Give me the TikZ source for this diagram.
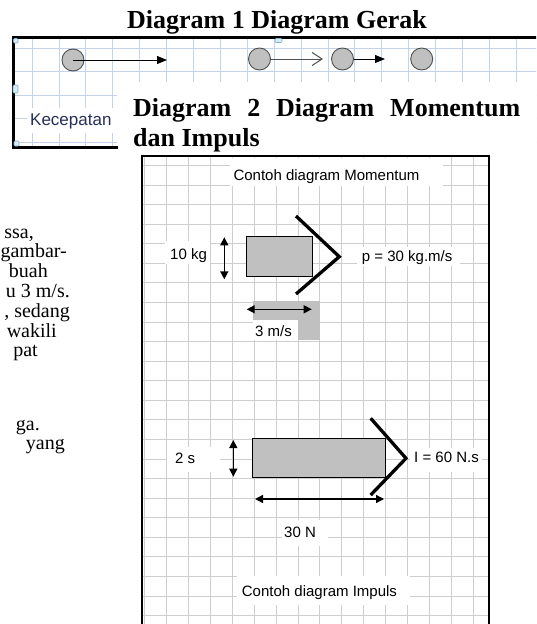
\documentclass[tikz,border=0pt]{standalone}
\usepackage{fontspec}
\setmainfont{Liberation Serif}
\newfontfamily\arialf{Liberation Sans}
\usetikzlibrary{arrows.meta}
\definecolor{gridblue}{RGB}{196,210,234}
\definecolor{gridgray}{RGB}{206,206,206}
\definecolor{ballfill}{RGB}{192,192,192}
\definecolor{ballline}{RGB}{80,80,80}
\definecolor{boxfill}{RGB}{192,192,192}
\definecolor{kecol}{RGB}{38,48,90}
\definecolor{handlefill}{RGB}{214,236,246}
\definecolor{handleline}{RGB}{130,176,206}
\begin{document}
\begin{tikzpicture}[x=1pt,y=-1pt,
  gridone/.style={draw=gridblue,line width=1pt},
  gridtwo/.style={draw=gridgray,line width=1pt},
  ttl/.style={font=\bfseries\fontsize{26}{30}\selectfont,inner sep=0pt},
  body/.style={font=\fontsize{20}{22}\selectfont,inner sep=0pt,anchor=base east},
  lbl/.style={font=\arialf\fontsize{15}{17}\selectfont,inner sep=0pt,anchor=base west},
  ball/.style={circle,draw=ballline,fill=ballfill,line width=0.9pt,minimum size=22pt,inner sep=0pt},
  massbox/.style={draw=black,fill=boxfill,line width=0.9pt,inner sep=0pt},
  chev/.style={line width=3.3pt,line join=miter,line cap=butt},
  dbl/.style={line width=1.4pt,{Triangle[length=8pt,width=8pt]}-{Triangle[length=8pt,width=8pt]}},
  handle/.style={fill=handlefill,draw=handleline,line width=0.6pt,rounded corners=1pt}]
\useasboundingbox (0,0) rectangle (536,624);
\clip (0,0) rectangle (536,624);
\fill[white] (0,0) rectangle (536,624);

% ---------- Diagram 1 ----------
\node[ttl,anchor=base] (t1) at (277,28) {Diagram 1 Diagram Gerak};
\begin{scope}
  \clip (13,37) rectangle (540,147);
  \foreach \k in {0,...,19} {
    \pgfmathsetmacro\gx{round(31.7+26.9*\k)+0.5}
    \draw[gridone] (\gx,37) -- (\gx,149);
  }
  \foreach \yy in {48.5,71.5,95.5,118.5,142.5} \draw[gridone] (13,\yy) -- (540,\yy);
\end{scope}
\fill[white] (117,82) rectangle (540,152);
\fill[white] (27,108) rectangle (117,133);
\draw[line width=3pt,line join=miter] (118,147) -- (13,147) -- (13,37) -- (540,37);
\draw[handle] (13.5,38.5) rectangle (18,43);
\draw[handle] (13,85) rectangle (18,93);
\draw[handle] (14,141) rectangle (19,146);
\draw[handle] (275,38.5) rectangle (282,42.5);

\node[ball] (c1) at (73,60) {};
\node[ball] (c2) at (259.5,59) {};
\node[ball] (c3) at (342.5,59) {};
\node[ball] (c4) at (421.7,59) {};
\coordinate (e1) at (167,60);
\coordinate (e2) at (323,59);
\coordinate (e3) at (385,59);
\draw[line width=1pt,-{Triangle[length=10pt,width=8pt]}] (c1.center) -- (e1);
\draw[line width=1pt,draw=ballline,-{Straight Barb[length=10pt,width=13pt]}] (c2.east) -- (e2);
\draw[line width=1pt,-{Triangle[length=10pt,width=8pt]}] (c3.east) -- (e3);
\node[font=\arialf\fontsize{17}{19}\selectfont,text=kecol,inner sep=0pt,anchor=base west] (kec) at (30,125) {Kecepatan};

% ---------- Diagram 2 title ----------
\node[ttl,anchor=base west] (t2a) at (133,116) {\makebox[387pt][s]{Diagram 2 Diagram Momentum}};
\node[ttl,anchor=base west] (t2b) at (133,146.7) {dan Impuls};

% ---------- left body text ----------
\node[body] (b1) at (34,238) {ssa,};
\node[body] (b2) at (67,257.7) {gambar-};
\node[body] (b3) at (48,277.5) {buah};
\node[body] (b4) at (70,297.3) {u 3 m/s.};
\node[body] (b5) at (70,317) {, sedang};
\node[body] (b6) at (57,337) {wakili};
\node[body] (b7) at (38,356.5) {pat};
\node[body] (b8) at (40,430) {ga.};
\node[body] (b9) at (65,449.5) {yang};

% ---------- Diagram 2 ----------
\begin{scope}
  \clip (142,156) rectangle (489,630);
  \foreach \k in {-1,...,14} {
    \pgfmathsetmacro\gx{round(165.7+21.97*\k)+0.5}
    \draw[gridtwo] (\gx,156) -- (\gx,636);
  }
  \foreach \k in {0,...,23} {
    \pgfmathsetmacro\gy{round(165+19.57*\k)+0.5}
    \draw[gridtwo] (142,\gy) -- (492,\gy);
  }
\end{scope}
% label backgrounds
\fill[white] (230,158) rectangle (443,186);
\fill[white] (165,241) rectangle (210,263.5);
\fill[white] (357,247) rectangle (460,266);
\fill[white] (167,447) rectangle (220,472);
\fill[white] (410,448) rectangle (482,472);
\fill[white] (282,520) rectangle (328,546);
\fill[white] (237,576) rectangle (410,605);
% gray L behind velocity arrow
\fill[boxfill] (253,300.5) rectangle (320,340);
\fill[white] (253,320) rectangle (298,340);
\draw[line width=2.5pt,line join=miter] (142,640) -- (142,156) -- (489,156) -- (489,640);

% momentum
\node[lbl] (mt) at (233.3,180) {Contoh diagram Momentum};
\node[massbox,minimum width=66pt,minimum height=40.7pt] (m) at (279.7,256.4) {};
\coordinate (ma) at (224.3,237.3);
\coordinate (mb) at (224.3,279.3);
\draw[dbl] (ma) -- (mb);
\node[lbl] (mk) at (170,259) {10 kg};
\coordinate (p1) at (296,216);
\coordinate (p2) at (339.3,256.7);
\coordinate (p3) at (296,294);
\draw[chev] (p1) -- (p2) -- (p3);
\node[lbl] (mp) at (361.7,261.5) {p = 30 kg.m/s};
\coordinate (va) at (246.7,309.3);
\coordinate (vb) at (311.7,309.3);
\draw[dbl] (va) -- (vb);
\node[lbl] (mv) at (255,336) {3 m/s};

% impulse
\node[massbox,minimum width=133.4pt,minimum height=39pt] (f) at (319,457.8) {};
\coordinate (ia) at (233.3,440);
\coordinate (ib) at (233.3,476.7);
\draw[dbl] (ia) -- (ib);
\node[lbl] (is) at (175,463.3) {2 s};
\coordinate (q1) at (370.7,418.3);
\coordinate (q2) at (406,458.3);
\coordinate (q3) at (370.7,495);
\draw[chev] (q1) -- (q2) -- (q3);
\node[lbl] (ii) at (414,462.7) {I = 60 N.s};
\coordinate (fa) at (255,499);
\coordinate (fb) at (384,499);
\draw[dbl] (fa) -- (fb);
\node[lbl] (in) at (284,537.3) {30 N};
\node[lbl] (it) at (241.7,596.7) {Contoh diagram Impuls};
\end{tikzpicture}
\end{document}
